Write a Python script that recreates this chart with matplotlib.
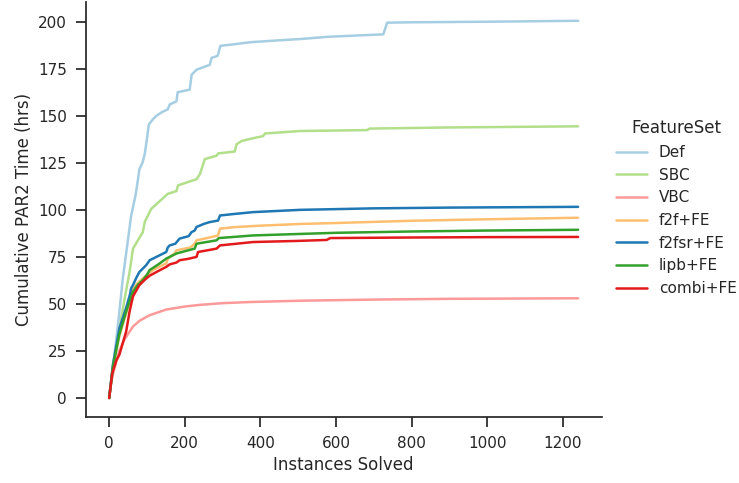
import matplotlib
matplotlib.use("Agg")
import matplotlib.pyplot as plt
import seaborn as sns

sns.set_theme(style="ticks", context="notebook")

# (instances solved, cumulative PAR2 hrs) breakpoints
def_x = [0, 8, 14, 25, 36, 47, 58, 62, 70, 76, 80, 88, 94, 100, 105, 115, 125, 140, 155, 160,
         178, 181, 213, 218, 231, 266, 271, 287, 294, 330, 372, 440, 505, 579, 725, 735, 800, 1000, 1240]
def_y = [0, 12, 23, 42, 63.5, 80, 96.8, 100.5, 108, 116, 121.7, 125, 129.6, 138, 145.4, 148, 150, 152, 153.4, 156,
         157.7, 162.5, 163.9, 171.8, 174.5, 177.1, 180.8, 181.9, 187.2, 188, 189.1, 190, 190.8, 192, 193.3, 199.5, 199.7, 200, 200.5]

sbc_x = [0, 10, 23, 41, 54, 63, 89, 94, 111, 155, 178, 182, 231, 240, 253, 284, 288, 332, 337, 350,
         377, 407, 412, 505, 682, 689, 900, 1240]
sbc_y = [0, 17.7, 31.9, 53, 67, 79.4, 88.2, 93.5, 100.5, 108.5, 110, 113, 116.3, 119, 127, 128.8, 130, 131, 134.9, 136.6,
         137.9, 139.2, 140.6, 141.9, 142.4, 143.2, 143.8, 144.4]

vbc_x = [0, 5, 14, 27, 40, 63, 80, 107, 151, 200, 240, 300, 372, 505, 700, 900, 1240]
vbc_y = [0, 8, 16, 25, 31, 38, 41, 44, 47, 48.6, 49.5, 50.4, 51, 51.7, 52.3, 52.7, 53]

f2f_x = [0, 10, 27, 45, 55, 63, 75, 89, 100, 116, 140, 151, 155, 173, 178, 215, 226, 231, 270, 288,
         293, 330, 400, 505, 600, 800, 1000, 1240]
f2f_y = [0, 16, 33, 45, 52, 58, 61, 63.5, 65.5, 68, 70.5, 71.5, 74, 76.8, 78.5, 80, 82, 83.8, 85.5, 86.4,
         90, 90.8, 91.6, 92.5, 93, 94.2, 95, 95.8]

f2fsr_x = [0, 10, 27, 45, 55, 58, 63, 72, 80, 90, 98, 107, 130, 145, 151, 155, 160, 175, 186, 210,
           218, 226, 231, 250, 266, 288, 293, 330, 381, 505, 700, 900, 1240]
f2fsr_y = [0, 17.7, 37, 48, 55, 58.3, 60, 64, 67, 69, 70.6, 73.2, 75.5, 77, 77.6, 80, 81.1, 82, 84.7, 86,
           88.2, 89, 90.9, 92.5, 93.5, 94.3, 97, 97.8, 98.8, 100, 100.8, 101.2, 101.6]

lipb_x = [0, 10, 27, 45, 55, 63, 75, 89, 100, 107, 130, 151, 178, 200, 226, 231, 284, 290, 381, 505,
          600, 800, 1000, 1240]
lipb_y = [0, 16.5, 34, 46, 52, 56.5, 60, 62.7, 65.5, 68, 71, 74.1, 76.8, 78, 79.4, 82, 83.8, 85, 86.4, 87.2,
          87.8, 88.5, 89, 89.4]

combi_x = [0, 8, 19, 27, 45, 54, 63, 80, 95, 107, 130, 151, 160, 178, 186, 210, 231, 235, 260,
           284, 293, 381, 500, 575, 585, 800, 1000, 1240]
combi_y = [0, 13, 20, 23, 35.4, 46, 54, 60, 63, 65, 67.5, 69.7, 71, 72, 73.2, 74, 75, 77.6, 78.5,
           79.4, 81.1, 82.9, 83.5, 84, 85, 85.3, 85.5, 85.6]

labels = ["Def", "SBC", "VBC", "f2f+FE", "f2fsr+FE", "lipb+FE", "combi+FE"]
series = [(def_x, def_y), (sbc_x, sbc_y), (vbc_x, vbc_y), (f2f_x, f2f_y),
          (f2fsr_x, f2fsr_y), (lipb_x, lipb_y), (combi_x, combi_y)]
pal = sns.color_palette("Paired")
colors = [pal[0], pal[2], pal[4], pal[6], pal[1], pal[3], pal[5]]

fig = plt.figure(figsize=(7.39, 4.83), dpi=100)
ax = fig.add_axes([0.116, 0.137, 0.698, 0.859])

for (xs, ys), lab, c in zip(series, labels, colors):
    ax.plot(xs, ys, color=c, lw=1.8, label=lab)

ax.set_xticks(range(0, 1201, 200))
ax.set_yticks(range(0, 201, 25))
ax.tick_params(length=7.5, pad=6)
ax.set_xlabel("Instances Solved")
ax.set_ylabel("Cumulative PAR2 Time (hrs)")
sns.despine(ax=ax)

fig.legend(*ax.get_legend_handles_labels(), title="FeatureSet", loc="center left",
           bbox_to_anchor=(0.815, 0.57), frameon=False)

fig.savefig("out.png", dpi=100)
